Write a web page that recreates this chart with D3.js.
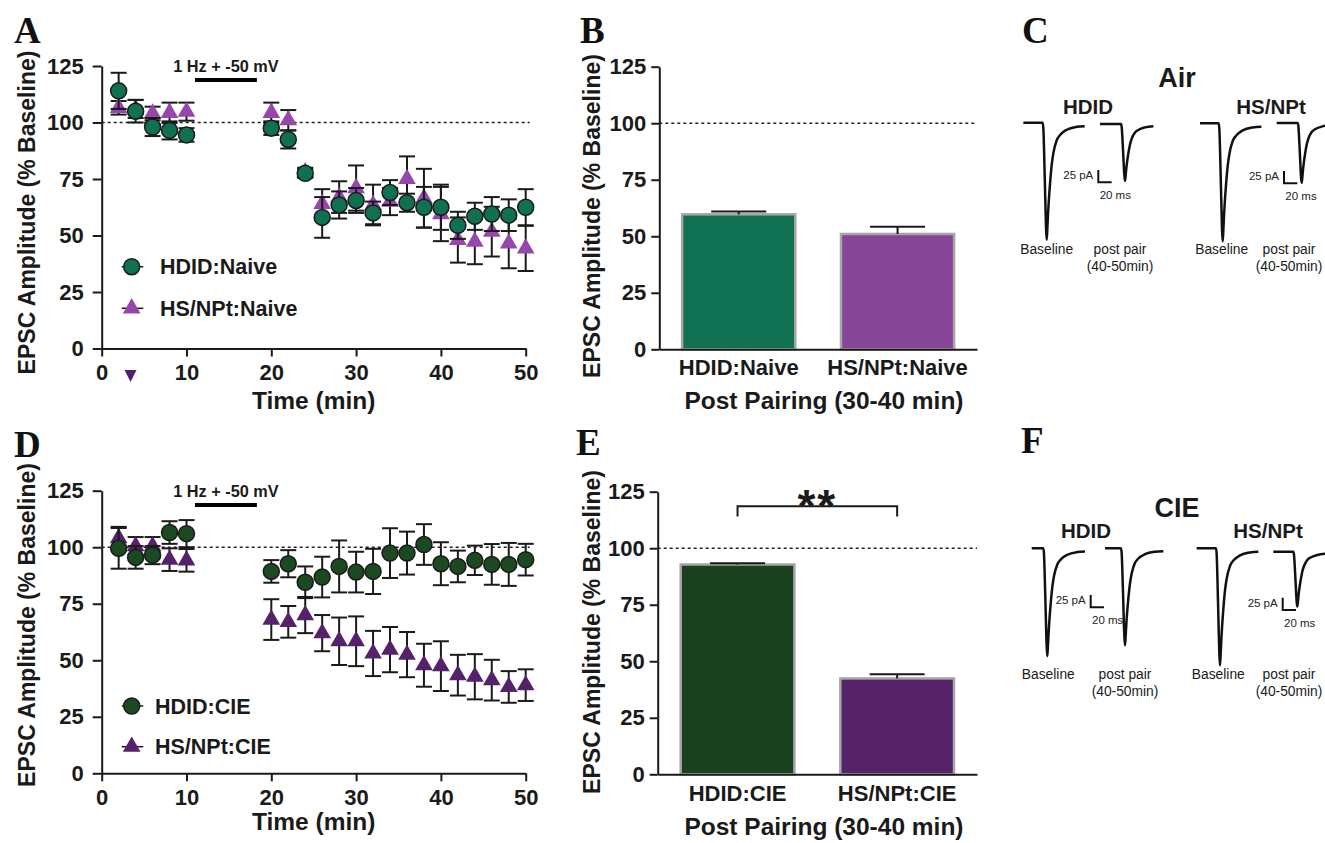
<!DOCTYPE html>
<html><head><meta charset="utf-8">
<script src="https://cdn.jsdelivr.net/npm/d3@7"></script>
<style>
body{margin:0;background:#fff}
svg{display:block;font-family:"Liberation Sans",Arial,Helvetica,sans-serif}
</style>
</head><body>
<svg id="fig" width="1325" height="843"></svg>
<script>
// ---------------- DATA ----------------
const times = [2,4,6,8,10,20,22,24,26,28,30,32,34,36,38,40,42,44,46,48,50];
const xTicks = [0,10,20,30,40,50];
const yTicks = [0,25,50,75,100,125];

const hdidNaiveMean  = [114,105,98,96.5,94.5,97.5,92.5,77.5,58,63.5,65.5,60,69,64.5,62.5,62.5,54.5,58.5,59.5,59,62.5];
const hdidNaiveSem   = [8,5,4,4,3,3,4,2,9,6,5.5,5,5.5,4,9,10,6,6,7.5,7,8];
const hsnptNaiveMean = [106.5,106,104,104.3,104.8,104.3,101,78,64,67,71,63.5,65,75,66.5,59.5,48,47.3,51.7,46.5,44.3];
const hsnptNaiveSem  = [3,4,3,4.5,4,4.5,4.5,2,6.5,7,10,9,6,10,13,12,10,10,11,11,10];

const hdidCieMean  = [99.5,95.5,96.5,106.5,106,89.3,92.7,84.5,86.8,91.5,89,89.3,97.4,97.4,101.2,92.7,91.5,94.2,92.4,92.4,94.5];
const hdidCieSem   = [9,5,4,5,6,5,6,7,9,11.5,9,10,11,9.5,9,9.5,7,6.5,9,9.5,7];
const hsnptCieMean = [104,100.5,100.5,94.5,94.2,68,67,70,62,58.4,58.4,53,54.7,52.5,47.8,47.4,43.4,42.7,41.2,38.2,39];
const hsnptCieSem  = [5,4,4,5,5,9,7,8,8,10.5,11,10,10,10,9.5,11,9,10,9,7,7];

const stimWindow = [11, 18.3];
const stimLabel = "1 Hz + -50 mV";
const markerTimes = [3.4];

const barCatsNaive = ["HDID:Naive","HS/NPt:Naive"];
const barMeanNaive = [59.7, 51.0];
const barSemNaive  = [1.3, 3.2];
const barCatsCie   = ["HDID:CIE","HS/NPt:CIE"];
const barMeanCie   = [92.8, 42.4];
const barSemCie    = [0.5, 1.8];
const sigLabel = "**";

// example EPSC traces: amplitude (pA) [baseline, post pair] per strain
const traceStrains = ["HDID","HS/NPt"];
const traceAmpAir = [[239,116],[241,122]];
const traceAmpCie = [[220,198],[239,112]];
// normalised waveform (ms relative to peak, fraction of peak)
const waveMs   = [-6,-5,-3,-1,0,1,2,3,5,7.5,10,15,20,30,45,60];
const waveFrac = [0,0.05,0.45,0.9,1,0.9,0.78,0.68,0.52,0.36,0.26,0.15,0.105,0.06,0.035,0.028];
const scaleBarPA = 25, scaleBarMs = 20;

// ---------------- STYLE ----------------
const C = {
  naiveHdid:"#0f7152", naiveHs:"#9646ad", naiveHsBar:"#874597",
  cieHdid:"#1b4a21", cieHs:"#55216b", cieHdidBar:"#1b421e", cieHsBar:"#562268",
  marker:"#4e1f6e"
};
const SANS = '"Liberation Sans",Arial,Helvetica,sans-serif';
const SERIF = '"Liberation Serif","Times New Roman",Times,serif';
const svg = d3.select("#fig");
svg.append("rect").attr("width",1325).attr("height",843).attr("fill","#fff");

function styleAxis(g, fs){
  g.selectAll("path.domain").attr("stroke","#1a1a1a").attr("stroke-width",2);
  g.selectAll(".tick line").attr("stroke","#1a1a1a").attr("stroke-width",2);
  g.selectAll(".tick text").attr("fill","#1a1a1a").attr("font-size",fs).attr("font-weight","bold")
    .style("font-family",SANS);
}
function panelLabel(t,x,y){
  svg.append("text").attr("x",x).attr("y",y).text(t)
    .style("font-family",SERIF)
    .attr("font-weight","bold").attr("font-size",37).attr("fill","#111");
}
function yTitle(x,yc){
  svg.append("text").attr("transform",`translate(${x},${yc}) rotate(-90)`)
    .attr("text-anchor","middle").attr("font-size",23).attr("font-weight","bold")
    .attr("fill","#1a1a1a").text("EPSC Amplitude (% Baseline)");
}

// ---------------- TIME COURSE ----------------
function timeCourse(o){
  const x = d3.scaleLinear().domain([0,50]).range([101.7,525.7]);
  const y = d3.scaleLinear().domain([0,125]).range([o.y0,o.y125]);
  const g = svg.append("g");
  g.append("line").attr("x1",x(0)).attr("x2",x(50)+4).attr("y1",y(100)).attr("y2",y(100))
    .attr("stroke","#222").attr("stroke-width",1.6).attr("stroke-dasharray","3,3");
  const ax = g.append("g").attr("transform",`translate(0,${y(0)})`)
    .call(d3.axisBottom(x).tickValues(xTicks).tickSize(8).tickPadding(8).tickSizeOuter(0));
  styleAxis(ax,22);
  const ay = g.append("g").attr("transform",`translate(${x(0)},0)`)
    .call(d3.axisLeft(y).tickValues(yTicks).tickSize(9).tickPadding(9).tickSizeOuter(0));
  styleAxis(ay,22);
  g.append("text").attr("x",x(25)).attr("y",o.xtY).attr("text-anchor","middle")
    .attr("font-size",24.5).attr("font-weight","bold").attr("fill","#1a1a1a").text("Time (min)");
  g.append("line").attr("x1",x(stimWindow[0])).attr("x2",x(stimWindow[1]))
    .attr("y1",o.stimY).attr("y2",o.stimY).attr("stroke","#000").attr("stroke-width",4);
  g.append("text").attr("x",x((stimWindow[0]+stimWindow[1])/2)).attr("y",o.stimY-8.5)
    .attr("text-anchor","middle").attr("font-size",16.3).attr("font-weight","bold")
    .attr("fill","#1a1a1a").text(stimLabel);

  const series = [
    {mean:o.triMean, sem:o.triSem, color:o.triColor, shape:"tri"},
    {mean:o.cirMean, sem:o.cirSem, color:o.cirColor, shape:"cir"}
  ];
  const tri = d3.symbol().type(d3.symbolTriangle).size(135);
  series.forEach(s=>{
    const d = times.map((t,i)=>({t, m:s.mean[i], e:s.sem[i]}));
    const eb = g.append("g").attr("stroke","#1a1a1a").attr("stroke-width",2);
    eb.selectAll("line.v").data(d).join("line").attr("class","v")
      .attr("x1",p=>x(p.t)).attr("x2",p=>x(p.t)).attr("y1",p=>y(p.m-p.e)).attr("y2",p=>y(p.m+p.e));
    eb.selectAll("line.t").data(d).join("line").attr("class","t")
      .attr("x1",p=>x(p.t)-8).attr("x2",p=>x(p.t)+8).attr("y1",p=>y(p.m+p.e)).attr("y2",p=>y(p.m+p.e));
    eb.selectAll("line.b").data(d).join("line").attr("class","b")
      .attr("x1",p=>x(p.t)-8).attr("x2",p=>x(p.t)+8).attr("y1",p=>y(p.m-p.e)).attr("y2",p=>y(p.m-p.e));
    if(s.shape==="cir"){
      g.selectAll(null).data(d).join("circle").attr("cx",p=>x(p.t)).attr("cy",p=>y(p.m)).attr("r",8)
        .attr("fill",s.color).attr("stroke","#1a1a1a").attr("stroke-width",1.5);
    } else {
      g.selectAll(null).data(d).join("path").attr("d",tri)
        .attr("transform",p=>`translate(${x(p.t)},${y(p.m)})`).attr("fill",s.color);
    }
  });
  const lg = [{lab:o.cirLab,color:o.cirColor,shape:"cir",yy:o.legY[0]},{lab:o.triLab,color:o.triColor,shape:"tri",yy:o.legY[1]}];
  lg.forEach(l=>{
    g.append("line").attr("x1",121.7).attr("x2",143.3).attr("y1",l.yy).attr("y2",l.yy)
      .attr("stroke","#1a1a1a").attr("stroke-width",1.5);
    if(l.shape==="cir") g.append("circle").attr("cx",131.7).attr("cy",l.yy).attr("r",8)
      .attr("fill",l.color).attr("stroke","#1a1a1a").attr("stroke-width",1.5);
    else g.append("path").attr("d",tri).attr("transform",`translate(131.7,${l.yy})`).attr("fill",l.color);
    g.append("text").attr("x",o.legX).attr("y",l.yy+7.6).attr("font-size",21.5).attr("font-weight","bold")
      .attr("fill","#1a1a1a").text(l.lab);
  });
  if(o.markers){
    const down = d3.symbol().type(d3.symbolTriangle).size(62);
    g.selectAll(null).data(markerTimes).join("path").attr("d",down)
      .attr("transform",t=>`translate(${x(t)},${o.markY}) rotate(180) scale(1,1.15)`).attr("fill",C.marker);
  }
}

timeCourse({y0:348.5,y125:66,xtY:408.5,stimY:80,
  cirMean:hdidNaiveMean,cirSem:hdidNaiveSem,triMean:hsnptNaiveMean,triSem:hsnptNaiveSem,
  cirColor:C.naiveHdid,triColor:C.naiveHs,cirLab:"HDID:Naive",triLab:"HS/NPt:Naive",
  legY:[266.7,308.3],legX:160,markers:true,markY:374});
timeCourse({y0:773.3,y125:490.7,xtY:830,stimY:505,
  cirMean:hdidCieMean,cirSem:hdidCieSem,triMean:hsnptCieMean,triSem:hsnptCieSem,
  cirColor:C.cieHdid,triColor:C.cieHs,cirLab:"HDID:CIE",triLab:"HS/NPt:CIE",
  legY:[706,746.7],legX:155,markers:false});
yTitle(34.7,212.5);
yTitle(34.7,625);

// ---------------- BAR PANELS ----------------
function barPanel(o){
  const x = d3.scaleBand().domain(o.cats).range([o.x0,977]).paddingInner(0.2875).paddingOuter(0.144);
  const y = d3.scaleLinear().domain([0,125]).range([o.y0,o.y125]);
  const g = svg.append("g");
  const d = o.cats.map((c,i)=>({c,m:o.mean[i],e:o.sem[i],col:o.colors[i]}));
  g.selectAll(null).data(d).join("rect").attr("x",p=>x(p.c)).attr("width",x.bandwidth())
    .attr("y",p=>y(p.m)).attr("height",p=>y(0)-y(p.m)).attr("fill",p=>p.col)
    .attr("stroke","#a6a6a6").attr("stroke-width",2.5);
  const cx = p=>x(p.c)+x.bandwidth()/2;
  g.selectAll(null).data(d).join("line").attr("x1",cx).attr("x2",cx).attr("y1",p=>y(p.m)).attr("y2",p=>y(p.m+p.e))
    .attr("stroke","#1a1a1a").attr("stroke-width",2);
  g.selectAll(null).data(d).join("line").attr("x1",p=>cx(p)-27.5).attr("x2",p=>cx(p)+27.5)
    .attr("y1",p=>y(p.m+p.e)).attr("y2",p=>y(p.m+p.e)).attr("stroke","#1a1a1a").attr("stroke-width",2);
  g.append("line").attr("x1",o.x0).attr("x2",977).attr("y1",y(100)).attr("y2",y(100))
    .attr("stroke","#222").attr("stroke-width",1.6).attr("stroke-dasharray","3,3");
  const ay = g.append("g").attr("transform",`translate(${o.x0},0)`)
    .call(d3.axisLeft(y).tickValues(yTicks).tickSize(8).tickPadding(5).tickSizeOuter(0));
  styleAxis(ay,22);
  const ax = g.append("g").attr("transform",`translate(0,${y(0)})`)
    .call(d3.axisBottom(x).tickSize(0).tickFormat(()=>"").tickSizeOuter(0));
  styleAxis(ax,22);
  g.selectAll(null).data(d).join("text").attr("x",cx).attr("y",o.catY).attr("text-anchor","middle")
    .attr("font-size",22).attr("font-weight","bold").attr("fill","#1a1a1a").text(p=>p.c);
  g.append("text").attr("x",824).attr("y",o.titY).attr("text-anchor","middle")
    .attr("font-size",24.5).attr("font-weight","bold").attr("fill","#1a1a1a").text("Post Pairing (30-40 min)");
  if(o.sig){
    const xa = cx(d[0]), xb = cx(d[1]);
    g.append("path").attr("d",`M${xa},${y(114)}V${y(118.6)}H${xb}V${y(114)}`)
      .attr("fill","none").attr("stroke","#1a1a1a").attr("stroke-width",2);
    g.append("text").attr("x",(xa+xb)/2).attr("y",y(118.6)+16).attr("text-anchor","middle")
      .attr("font-size",46).attr("font-weight","bold").attr("letter-spacing",2).attr("fill","#1a1a1a").text(sigLabel);
  }
}
barPanel({cats:barCatsNaive,mean:barMeanNaive,sem:barSemNaive,colors:[C.naiveHdid,C.naiveHsBar],
  x0:659.3,y0:349.3,y125:66.7,catY:374.6,titY:408.7,sig:false});
barPanel({cats:barCatsCie,mean:barMeanCie,sem:barSemCie,colors:[C.cieHdidBar,C.cieHsBar],
  x0:657.7,y0:774.3,y125:491.7,catY:800.6,titY:835.4,sig:true});
yTitle(599.7,216);
yTitle(599.7,632);

// ---------------- TRACES ----------------
const pxPerMs = 0.667, pxPerPA = 0.49;
function trace(g, troughX, baseY, amp, preMs, postMs){
  const xs = d3.scaleLinear().domain([0,100]).range([troughX, troughX+100*pxPerMs]);
  const ys = d3.scaleLinear().domain([0,-100]).range([baseY, baseY+100*pxPerPA]);
  const pts = [[-preMs,0]];
  waveMs.forEach((m,i)=>{ if(m<=postMs) pts.push([m,-amp*waveFrac[i]]); });
  const last = waveMs.findIndex(m=>m>postMs);
  if(last>0){
    const f = d3.interpolateNumber(waveFrac[last-1],waveFrac[last])((postMs-waveMs[last-1])/(waveMs[last]-waveMs[last-1]));
    pts.push([postMs,-amp*f]);
  }
  g.append("path").datum(pts).attr("d",d3.line().x(p=>xs(p[0])).y(p=>ys(p[1])).curve(d3.curveMonotoneX))
    .attr("fill","none").attr("stroke","#111").attr("stroke-width",2.5).attr("stroke-linejoin","round");
}
function scaleBar(g, cx, cy){
  const xs = d3.scaleLinear().domain([0,100]).range([cx, cx+100*pxPerMs]);
  const ys = d3.scaleLinear().domain([0,100]).range([cy, cy-100*pxPerPA]);
  g.append("path").attr("d",`M${cx},${ys(scaleBarPA)}V${cy}H${xs(scaleBarMs)}`)
    .attr("fill","none").attr("stroke","#111").attr("stroke-width",2);
  g.append("text").attr("x",cx-5).attr("y",cy-3).attr("text-anchor","end").attr("font-size",11.5)
    .attr("fill","#222").text(scaleBarPA+" pA");
  g.append("text").attr("x",cx+17).attr("y",cy+17).attr("text-anchor","middle").attr("font-size",11.5)
    .attr("fill","#222").text(scaleBarMs+" ms");
}
function tracePanel(o){
  const g = svg.append("g");
  g.append("text").attr("x",1177).attr("y",o.titleY).attr("text-anchor","middle")
    .attr("font-size",27).attr("font-weight","bold").attr("fill","#1a1a1a").text(o.title);
  o.strains.forEach((s,i)=>{
    g.append("text").attr("x",s.labX).attr("y",o.strainY).attr("text-anchor","middle")
      .attr("font-size",20.5).attr("font-weight","bold").attr("fill","#1a1a1a").text(traceStrains[i]);
    trace(g, s.base[0], s.base[1], o.amps[i][0], s.base[2], s.base[3]);
    trace(g, s.post[0], s.post[1], o.amps[i][1], s.post[2], s.post[3]);
    scaleBar(g, s.bar[0], s.bar[1]);
    g.append("text").attr("x",s.txt[0]).attr("y",o.txtY).attr("text-anchor","middle")
      .attr("font-size",13.8).attr("fill","#1a1a1a").text("Baseline");
    g.append("text").attr("x",s.txt[1]).attr("y",o.txtY).attr("text-anchor","middle")
      .attr("font-size",13.8).attr("fill","#1a1a1a").text("post pair");
    g.append("text").attr("x",s.txt[1]).attr("y",o.txtY+17).attr("text-anchor","middle")
      .attr("font-size",13.8).attr("fill","#1a1a1a").text("(40-50min)");
  });
}
tracePanel({title:"Air",titleY:87,strainY:113.5,txtY:254,amps:traceAmpAir,strains:[
  {labX:1088,base:[1046.7,122.7,35,57],post:[1125,124,37.5,42.5],bar:[1098.3,182.3],txt:[1046.7,1120]},
  {labX:1271,base:[1222.7,123.3,34,58],post:[1301.7,123,37.5,50],bar:[1284,183.3],txt:[1221.7,1289]}
]});
tracePanel({title:"CIE",titleY:516.5,strainY:538,txtY:679,amps:traceAmpCie,strains:[
  {labX:1086,base:[1047.3,548.3,23.4,56.5],post:[1125,548.3,30,57.5],bar:[1090.7,607.3],txt:[1048.3,1125]},
  {labX:1268,base:[1220,548.3,35,57.5],post:[1297.3,551.7,36,45],bar:[1282.7,610],txt:[1218.3,1289]}
]});

panelLabel("A",14,43); panelLabel("B",580,43); panelLabel("C",1022,43);
panelLabel("D",14,457); panelLabel("E",576,455); panelLabel("F",1021,453);
</script>
</body></html>
